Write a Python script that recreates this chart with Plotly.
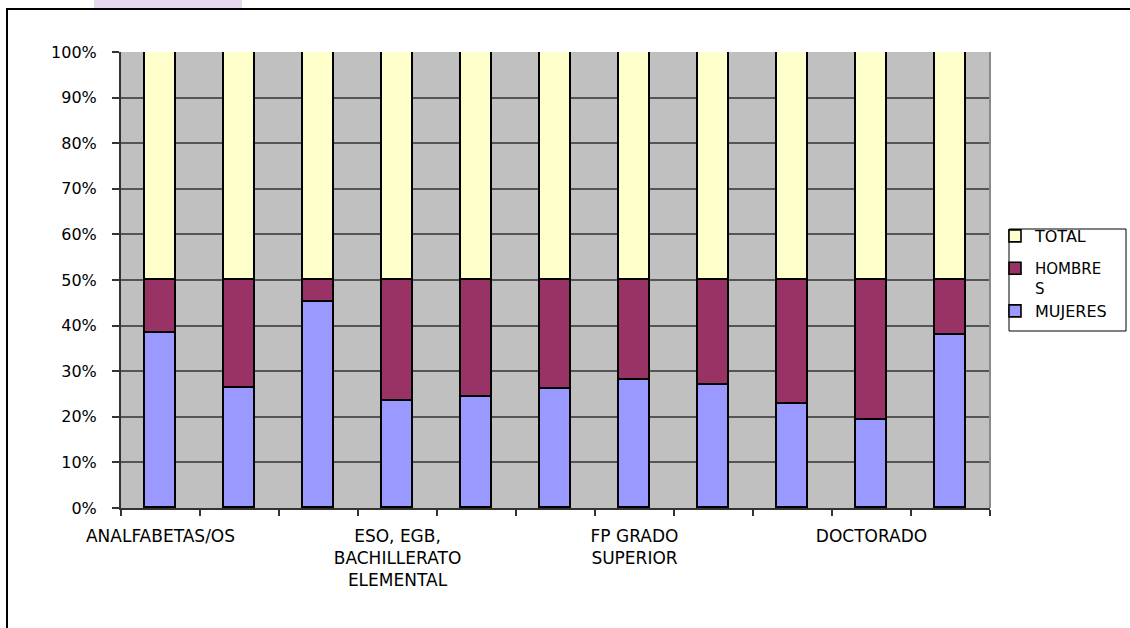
import plotly.graph_objects as go

# ---- data (percent of each bar) ----
n_categories = 11
mujeres = [38.4, 26.4, 45.2, 23.4, 24.4, 26.1, 28.1, 26.9, 22.9, 19.2, 38.0]
hombres = [11.6, 23.6, 4.8, 26.6, 25.6, 23.9, 21.9, 23.1, 27.1, 30.8, 12.0]
total = [50, 50, 50, 50, 50, 50, 50, 50, 50, 50, 50]
label_index = [0, 3, 6, 9]
label_text = ["ANALFABETAS/OS", "ESO, EGB,<br>BACHILLERATO<br>ELEMENTAL",
              "FP GRADO<br>SUPERIOR", "DOCTORADO"]
y_ticks = [0, 10, 20, 30, 40, 50, 60, 70, 80, 90, 100]
y_tick_labels = ["0%", "10%", "20%", "30%", "40%", "50%", "60%", "70%",
                 "80%", "90%", "100%"]

x = list(range(n_categories))
FONT = "DejaVu Sans"

# figure geometry (px)
W, H = 1130, 628
L, R, T, B = 121, 140, 52, 120
PW, PH = W - L - R, H - T - B


def px_x(v):
    return (v - L) / PW


def px_y(v):
    return (H - B - v) / PH


line = dict(color="black", width=1.6)
fig = go.Figure()
fig.add_trace(go.Bar(x=x, y=mujeres, name="MUJERES", width=0.4,
                     marker=dict(color="#9999FF", line=line), legend="legend3"))
fig.add_trace(go.Bar(x=x, y=hombres, name="HOMBRE<br>S", width=0.4,
                     marker=dict(color="#993366", line=line), legend="legend2"))
fig.add_trace(go.Bar(x=x, y=total, name="TOTAL", width=0.4,
                     marker=dict(color="#FFFFCC", line=line), legend="legend"))
# invisible helper trace for the label axis
fig.add_trace(go.Scatter(x=label_index, y=[0] * len(label_index), xaxis="x2",
                         mode="markers", marker=dict(opacity=0), showlegend=False,
                         hoverinfo="skip"))

legend_common = dict(xanchor="left", yanchor="middle", bgcolor="rgba(0,0,0,0)",
                     font=dict(family=FONT, size=16, color="black"),
                     itemwidth=30, borderwidth=0)

fig.update_layout(
    width=W, height=H,
    margin=dict(l=L, r=R, t=T, b=B, autoexpand=False),
    paper_bgcolor="white", plot_bgcolor="#C0C0C0",
    barmode="stack", bargap=0,
    font=dict(family=FONT, size=16, color="black"),
    legend=dict(x=px_x(995), y=px_y(236), **legend_common),
    legend2=dict(x=px_x(995), y=px_y(278),
                 valign="top", tracegroupgap=0,
                 **{k: v for k, v in legend_common.items() if k != "font"},
                 font=dict(family=FONT, size=15, color="black")),
    legend3=dict(x=px_x(995), y=px_y(311), **legend_common),
    xaxis=dict(range=[-0.5, n_categories - 0.5],
               tickvals=[i - 0.5 for i in range(n_categories + 1)],
               showticklabels=False, ticks="outside", ticklen=6, tickwidth=1.5,
               tickcolor="#333333", showgrid=False, showline=True,
               linecolor="#333333", linewidth=2, zeroline=False, fixedrange=True),
    xaxis2=dict(range=[-0.5, n_categories - 0.5], overlaying="x", anchor="y",
                side="bottom", tickvals=label_index, ticktext=label_text,
                ticks="", showgrid=False, showline=False, zeroline=False,
                ticklabelstandoff=16,
                tickfont=dict(family=FONT, size=17, color="black")),
    yaxis=dict(range=[0, 100], tickvals=y_ticks, ticktext=y_tick_labels,
               ticks="outside", ticklen=7, tickwidth=1.5, tickcolor="#333333",
               showline=True, linecolor="#333333", linewidth=2,
               gridcolor="#555555", gridwidth=1.5, zeroline=False,
               ticklabelstandoff=12,
               tickfont=dict(family=FONT, size=16, color="black")),
    shapes=[
        # outer chart border
        dict(type="rect", xref="paper", yref="paper",
             x0=px_x(7), x1=px_x(1140), y0=px_y(640), y1=px_y(9),
             line=dict(color="black", width=2), layer="below"),
        # lavender strip at top
        dict(type="rect", xref="paper", yref="paper",
             x0=px_x(94), x1=px_x(242), y0=px_y(8), y1=px_y(-2),
             fillcolor="#E6D8F0", line=dict(width=0)),
        # right edge of plot area
        dict(type="line", xref="paper", yref="paper", x0=1, x1=1, y0=0, y1=1,
             line=dict(color="#8A8A8A", width=2)),
        # legend box
        dict(type="rect", xref="paper", yref="paper",
             x0=px_x(1009), x1=px_x(1126), y0=px_y(331), y1=px_y(229),
             line=dict(color="black", width=1)),
    ],
)

fig.write_html("out.html",
               config={"displayModeBar": False},
               post_script="document.body.style.margin='0px';"
                           "document.body.style.overflow='hidden';")
